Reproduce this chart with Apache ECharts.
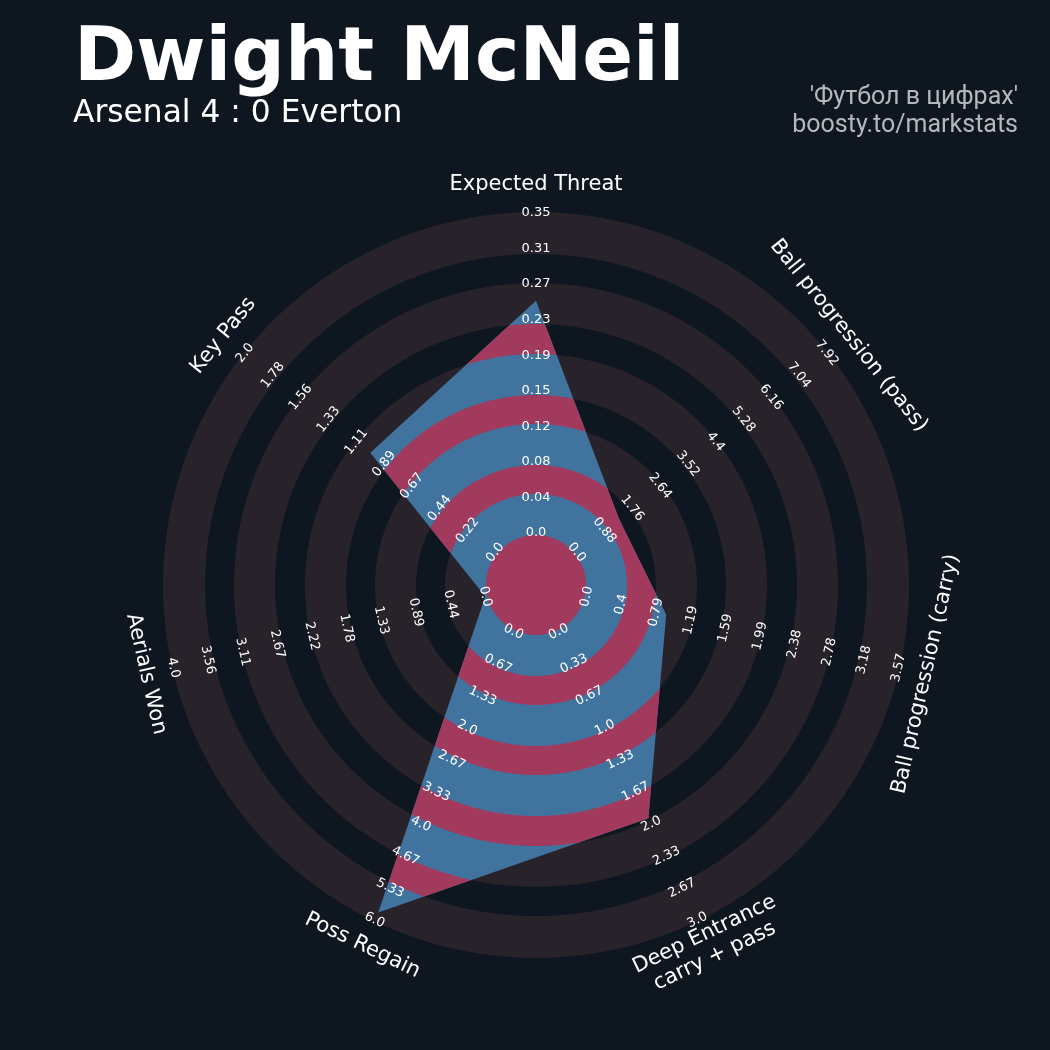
<!DOCTYPE html>
<html><head><meta charset="utf-8">
<script src="https://cdn.jsdelivr.net/npm/echarts@6/dist/echarts.min.js"></script>
<style>html,body{margin:0;padding:0;background:#0e1720}#c{width:1050px;height:1050px}</style>
</head><body><div id="c"></div>
<script>
// ---------------- data ----------------
const params = ['Expected Threat', 'Ball progression (pass)', 'Ball progression (carry)', 'Deep Entrance\ncarry + pass', 'Poss Regain', 'Aerials Won', 'Key Pass'];
const minRange = [0, 0, 0, 0, 0, 0, 0];
const maxRange = [0.35, 7.92, 3.57, 3.0, 6.0, 4.0, 2.0];
const values = [0.254, 1.34, 0.91, 1.94, 5.84, 0.0, 1.0];
const tickLabels = [
  ['0.0', '0.04', '0.08', '0.12', '0.15', '0.19', '0.23', '0.27', '0.31', '0.35'],
  ['0.0', '0.88', '1.76', '2.64', '3.52', '4.4', '5.28', '6.16', '7.04', '7.92'],
  ['0.0', '0.4', '0.79', '1.19', '1.59', '1.99', '2.38', '2.78', '3.18', '3.57'],
  ['0.0', '0.33', '0.67', '1.0', '1.33', '1.67', '2.0', '2.33', '2.67', '3.0'],
  ['0.0', '0.67', '1.33', '2.0', '2.67', '3.33', '4.0', '4.67', '5.33', '6.0'],
  ['0.0', '0.44', '0.89', '1.33', '1.78', '2.22', '2.67', '3.11', '3.56', '4.0'],
  ['0.0', '0.22', '0.44', '0.67', '0.89', '1.11', '1.33', '1.56', '1.78', '2.0']
];
const titleText = 'Dwight McNeil';
const subtitleText = 'Arsenal 4 : 0 Everton';
const creditLines = ["'Футбол в цифрах'", 'boosty.to/markstats'];

// ---------------- layout (radial axis units) ----------------
const R_IN = 52, R_OUT = 372, R_LABEL = 400, R_MAX = 373;
const greyRings = [[50, 91], [120, 161], [190, 231], [261, 302], [331, 373]];
const redRings = [[0, 50], [91, 120], [161, 190], [231, 261], [302, 331]];
const BG = '#0e1720', GREY = '#28232b', BLUE = '#41739f', RED = '#a23a5e';

const N = params.length;
const STEP = 360 / N;
const angles = params.map((_, i) => i * STEP);
function toR(i, v) { return R_IN + (v - minRange[i]) / (maxRange[i] - minRange[i]) * (R_OUT - R_IN); }
function tickR(j) { return R_IN + j * (R_OUT - R_IN) / (tickLabels[0].length - 1); }
function textRot(a) {
  const deg = (a <= 90 || a >= 270) ? -a : 180 - a;
  return deg * Math.PI / 180;
}
const norm = t => ((t % 360) + 360) % 360;

function geometry(api) {
  const C = api.coord([0, 0]);
  const p = api.coord([100, 0]);
  const k = Math.hypot(p[0] - C[0], p[1] - C[1]) / 100;
  const verts = values.map((v, i) => api.coord([toR(i, v), angles[i]]));
  return { C, k, verts };
}
function rhoU(g, api, theta) {
  const t = norm(theta);
  const i = Math.floor(t / STEP + 1e-9) % N, j = (i + 1) % N;
  const q = api.coord([100, t]);
  const d = [q[0] - g.C[0], q[1] - g.C[1]];
  const P = g.verts[i], Q = g.verts[j];
  const e = [Q[0] - P[0], Q[1] - P[1]];
  const w = [P[0] - g.C[0], P[1] - g.C[1]];
  const cr = (a, b) => a[0] * b[1] - a[1] * b[0];
  const tt = cr(w, e) / cr(d, e);
  return tt * 100;
}

function clippedRing(api, a, b) {
  const g = geometry(api);
  const f = th => rhoU(g, api, th);
  let start = 0, mn = Infinity;
  values.forEach((v, i) => { const r = toR(i, v); if (r < mn) { mn = r; start = angles[i]; } });
  const th = [];
  for (let s = 0; s <= 360 + 1e-9; s += 0.25) th.push(start + s);
  angles.forEach(x => { let y = x; while (y < start) y += 360; if (y <= start + 360) th.push(y); });
  th.sort((p, q) => p - q);
  const pt = (r, t) => api.coord([r, norm(t)]);
  const clamp = (r) => Math.max(a, Math.min(b, r));
  if (a <= 0) {
    return [{ type: 'polygon', shape: { points: th.map(t => pt(Math.min(b, f(t)), t)) }, style: { fill: RED } }];
  }
  const bisect = (t1, t2) => {
    let lo = t1, hi = t2; const s1 = f(t1) > a;
    for (let n = 0; n < 30; n++) { const m = (lo + hi) / 2; if ((f(m) > a) === s1) lo = m; else hi = m; }
    return (lo + hi) / 2;
  };
  const runs = []; let run = null;
  for (let n = 0; n < th.length; n++) {
    const t = th[n], inside = f(t) > a;
    if (inside && !run) { run = []; if (n > 0) run.push(bisect(th[n - 1], t)); run.push(t); }
    else if (inside) run.push(t);
    else if (run) { run.push(bisect(th[n - 1], t)); runs.push(run); run = null; }
  }
  if (run) runs.push(run);
  return runs.map(rn => {
    const outer = rn.map(t => pt(clamp(f(t)), t));
    const inner = rn.slice().reverse().map(t => pt(a, t));
    return { type: 'polygon', shape: { points: outer.concat(inner) }, style: { fill: RED } };
  });
}

const tickData = [];
tickLabels.forEach((arr, i) => arr.forEach((lab, j) => tickData.push([tickR(j), angles[i], i, j])));
const paramData = params.map((p, i) => [R_OUT, angles[i], i]);

const creditStyle = { fontFamily: 'Roboto', fontWeight: 'normal', fontSize: 25, color: '#b5b8bc' };
const chart = echarts.init(document.getElementById('c'), null, { renderer: 'canvas' });
chart.setOption({
  backgroundColor: BG,
  animation: false,
  title: [
    { text: titleText, left: 74, top: 23, padding: 0,
      textStyle: { fontFamily: 'DejaVu Sans', fontWeight: 'bold', fontSize: 75, color: '#ffffff' } },
    { text: subtitleText, left: 73, top: 98, padding: 0,
      textStyle: { fontFamily: 'DejaVu Sans', fontWeight: 'normal', fontSize: 31.3, color: '#ffffff' } },
    { text: creditLines[0], right: 32, top: 85, padding: 0, textStyle: creditStyle },
    { text: creditLines[1], right: 32, top: 113, padding: 0, textStyle: creditStyle }
  ],
  polar: { center: [536, 585], radius: R_MAX },
  radiusAxis: { type: 'value', min: 0, max: R_MAX, show: false },
  angleAxis: { type: 'value', min: 0, max: 360, startAngle: 90, clockwise: true, show: false },
  series: [
    { type: 'custom', coordinateSystem: 'polar', silent: true, clip: false, data: [[0, 0]],
      renderItem: (p, api) => {
        const C = api.coord([0, 0]);
        const q = api.coord([100, 0]);
        const k = Math.hypot(q[0] - C[0], q[1] - C[1]) / 100;
        return { type: 'group', children: greyRings.map(rg => ({
          type: 'sector', shape: { cx: C[0], cy: C[1], r0: rg[0] * k, r: rg[1] * k, startAngle: 0, endAngle: Math.PI * 2 },
          style: { fill: GREY } })) };
      } },
    { type: 'custom', coordinateSystem: 'polar', silent: true, clip: false, data: [[0, 0]],
      renderItem: (p, api) => {
        const g = geometry(api);
        return { type: 'polygon', shape: { points: g.verts }, style: { fill: BLUE } };
      } },
    { type: 'custom', coordinateSystem: 'polar', silent: true, clip: false, data: [[0, 0]],
      renderItem: (p, api) => {
        let ch = [];
        redRings.forEach(rg => { ch = ch.concat(clippedRing(api, rg[0], rg[1])); });
        return { type: 'group', children: ch };
      } },
    { type: 'custom', coordinateSystem: 'polar', silent: true, clip: false, data: tickData,
      encode: { radius: 0, angle: 1 },
      renderItem: (p, api) => {
        const pos = api.coord([api.value(0), api.value(1)]);
        const i = api.value(2), j = api.value(3);
        return { type: 'text', x: pos[0], y: pos[1], rotation: textRot(api.value(1)),
          style: { text: tickLabels[i][j], x: 0, y: 0, fill: '#ffffff', fontSize: 13, fontFamily: 'DejaVu Sans',
            align: 'center', verticalAlign: 'middle' } };
      } },
    { type: 'custom', coordinateSystem: 'polar', silent: true, clip: false, data: paramData,
      encode: { radius: 0, angle: 1 },
      renderItem: (p, api) => {
        const pos = api.coord([R_LABEL, api.value(1)]);
        const i = api.value(2);
        return { type: 'text', x: pos[0], y: pos[1], rotation: textRot(api.value(1)),
          style: { text: params[i], x: 0, y: 0, fill: '#ffffff', fontSize: 21, lineHeight: 24, fontFamily: 'DejaVu Sans',
            align: 'center', verticalAlign: 'middle' } };
      } }
  ]
});
</script>
</body></html>
